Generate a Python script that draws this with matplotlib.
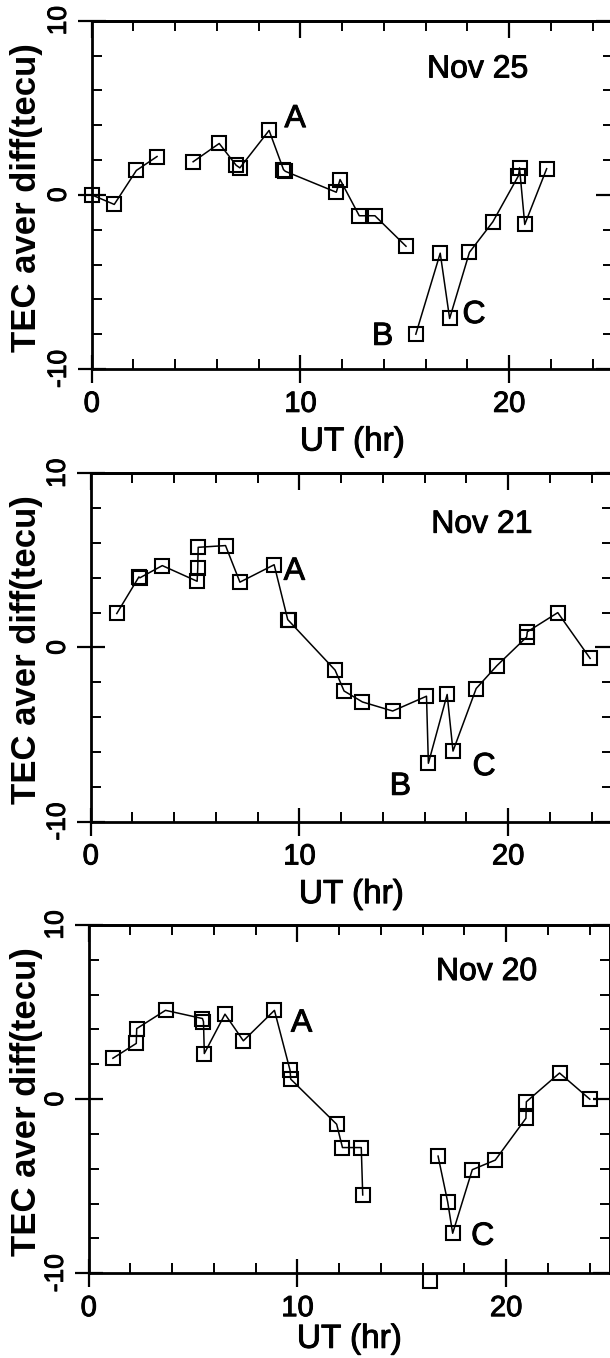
import numpy as np
import matplotlib
matplotlib.use("Agg")
import matplotlib.pyplot as plt
import matplotlib.patheffects as pe
from matplotlib.ticker import MultipleLocator

nan = np.nan

# --- Nov 25 -----------------------------------------------------------
ut_nov25 = [0.0, 1.08, 2.14, 3.13, nan, 4.86, 6.11, 6.92, 7.10, 8.50, 9.19, 9.28,
            11.72, 11.90, 12.82, 13.57, 15.06, nan, 15.53, 16.70, 17.15, 18.10,
            19.22, 20.45, 20.50, 20.75, 21.80]
tec_nov25 = [0.0, -0.55, 1.40, 2.20, nan, 1.90, 2.95, 1.70, 1.55, 3.70, 1.45, 1.35,
             0.15, 0.88, -1.20, -1.20, -2.95, nan, -8.00, -3.35, -7.10, -3.30,
             -1.55, 1.10, 1.55, -1.70, 1.50]

# --- Nov 21 -----------------------------------------------------------
ut_nov21 = [1.25, 2.31, 2.36, 3.43, 5.10, 5.13, 5.15, 6.46, 7.15, 8.79, 9.44, 9.48,
            11.71, 12.14, 13.02, 14.47, 16.09, 16.18, 17.08, 17.36, 18.47, 19.46,
            20.89, 20.92, 22.38, 23.93]
tec_nov21 = [1.95, 4.05, 4.00, 4.70, 3.80, 4.55, 5.75, 5.85, 3.75, 4.75, 1.60, 1.55,
             -1.30, -2.50, -3.13, -3.65, -2.80, -6.65, -2.70, -5.95, -2.36, -1.05,
             0.60, 0.90, 2.00, -0.63]

# --- Nov 20 -----------------------------------------------------------
ut_nov20 = [1.16, 2.28, 2.30, 3.68, 5.45, 5.50, 5.54, 6.53, 7.41, 8.90, 9.65, 9.68,
            11.88, 12.16, 13.06, 13.13, nan, 16.74, 17.20, 17.44, 18.38, 19.48,
            20.95, 20.97, 22.56, 24.01]
tec_nov20 = [2.35, 3.20, 4.05, 5.10, 4.63, 4.45, 2.62, 4.88, 3.35, 5.10, 1.65, 1.15,
             -1.44, -2.78, -2.78, -5.50, nan, -3.27, -5.90, -7.70, -4.05, -3.50,
             -1.10, -0.15, 1.50, 0.00]
# single reading off the bottom of the scale
ut_nov20_low = [16.36]
tec_nov20_low = [-10.45]

day_titles = ["Nov 25", "Nov 21", "Nov 20"]
x_ticks_major = 10
x_ticks_minor = 2
y_ticks_major = 10
y_ticks_minor = 2

plt.rcParams['font.family'] = ['Liberation Sans', 'DejaVu Sans']
plt.rcParams['axes.unicode_minus'] = False

W, H = 610, 1358
fig = plt.figure(figsize=(W / 100, H / 100), dpi=100)

PX_PER_HR = 20.87
AX_W = 25 * PX_PER_HR
AX_H = 348.3
SPINE_LW = 2.0
HEAVY = [pe.withStroke(linewidth=0.7, foreground='black')]


def make_panel(left_px, top_px, ut, tec, title, title_xy, letters, xlabel_drop):
    ax = fig.add_axes([left_px / W, 1 - (top_px + AX_H) / H, AX_W / W, AX_H / H])
    ax.set_xlim(0, 25)
    ax.set_ylim(-10, 10)
    for sp in ax.spines.values():
        sp.set_linewidth(SPINE_LW)

    ax.xaxis.set_major_locator(MultipleLocator(x_ticks_major))
    ax.xaxis.set_minor_locator(MultipleLocator(x_ticks_minor))
    ax.yaxis.set_major_locator(MultipleLocator(y_ticks_major))
    ax.yaxis.set_minor_locator(MultipleLocator(y_ticks_minor))
    ax.tick_params(which='major', direction='inout', length=20, width=1.6,
                   pad=5, top=False, right=False)
    ax.tick_params(which='minor', direction='in', length=7.5, width=1.4,
                   top=False, right=False)
    ax.tick_params(axis='x', labelsize=21)
    ax.tick_params(axis='y', labelsize=19, labelrotation=90)
    plt.setp(ax.get_yticklabels(), va='center')
    for lbl in ax.get_xticklabels() + ax.get_yticklabels():
        lbl.set_path_effects(HEAVY)

    # inward-only ticks along the top and right edges
    sx = ax.secondary_xaxis('top')
    sx.xaxis.set_major_locator(MultipleLocator(x_ticks_major))
    sx.xaxis.set_minor_locator(MultipleLocator(x_ticks_minor))
    sx.tick_params(which='major', direction='in', length=12, width=1.6,
                   labeltop=False, labelbottom=False)
    sx.tick_params(which='minor', direction='in', length=7.5, width=1.4)
    sx.spines['top'].set_linewidth(SPINE_LW)

    sy = ax.secondary_yaxis('right')
    sy.yaxis.set_major_locator(MultipleLocator(y_ticks_major))
    sy.yaxis.set_minor_locator(MultipleLocator(y_ticks_minor))
    sy.tick_params(which='major', direction='in', length=12, width=1.6,
                   labelright=False, labelleft=False)
    sy.tick_params(which='minor', direction='in', length=7.5, width=1.4)
    sy.spines['right'].set_linewidth(SPINE_LW)

    ax.plot(ut, tec, color='black', lw=1.1, marker='s', ms=10,
            mfc='none', mec='black', mew=1.5, clip_on=False)

    ax.text(title_xy[0], title_xy[1], title, fontsize=23, ha='center', va='center',
            path_effects=HEAVY)
    for letter, (lx, ly) in letters:
        ax.text(lx, ly, letter, fontsize=23, ha='center', va='center',
                path_effects=HEAVY)

    ax.set_xlabel('UT (hr)', fontsize=24, path_effects=HEAVY)
    ax.xaxis.label.set_va('center')
    ax.xaxis.set_label_coords(0.5, -xlabel_drop / AX_H)

    fig.text(26.5 / W, 1 - (top_px + AX_H / 2 + 2.5) / H, 'TEC aver diff(tecu)',
             rotation=90, ha='center', va='center', fontsize=25, fontweight='bold')
    return ax


make_panel(91.7, 20.7, ut_nov25, tec_nov25, day_titles[0], (18.5, 7.2),
           [("A", (9.75, 4.35)), ("B", (13.94, -8.15)), ("C", (18.32, -6.9))], 73)
make_panel(90.7, 473.3, ut_nov21, tec_nov21, day_titles[1], (18.75, 7.05),
           [("A", (9.76, 4.35)), ("B", (14.84, -8.0)), ("C", (18.85, -6.87))], 73)
ax3 = make_panel(88.7, 925.0, ut_nov20, tec_nov20, day_titles[2], (19.07, 7.3),
                 [("A", (10.2, 4.34)), ("C", (18.88, -7.9))], 66)
ax3.plot(ut_nov20_low, tec_nov20_low, ls='none', marker='s', ms=10,
         mfc='none', mec='black', mew=1.5, clip_on=False)

fig.savefig('out.png', dpi=100)
